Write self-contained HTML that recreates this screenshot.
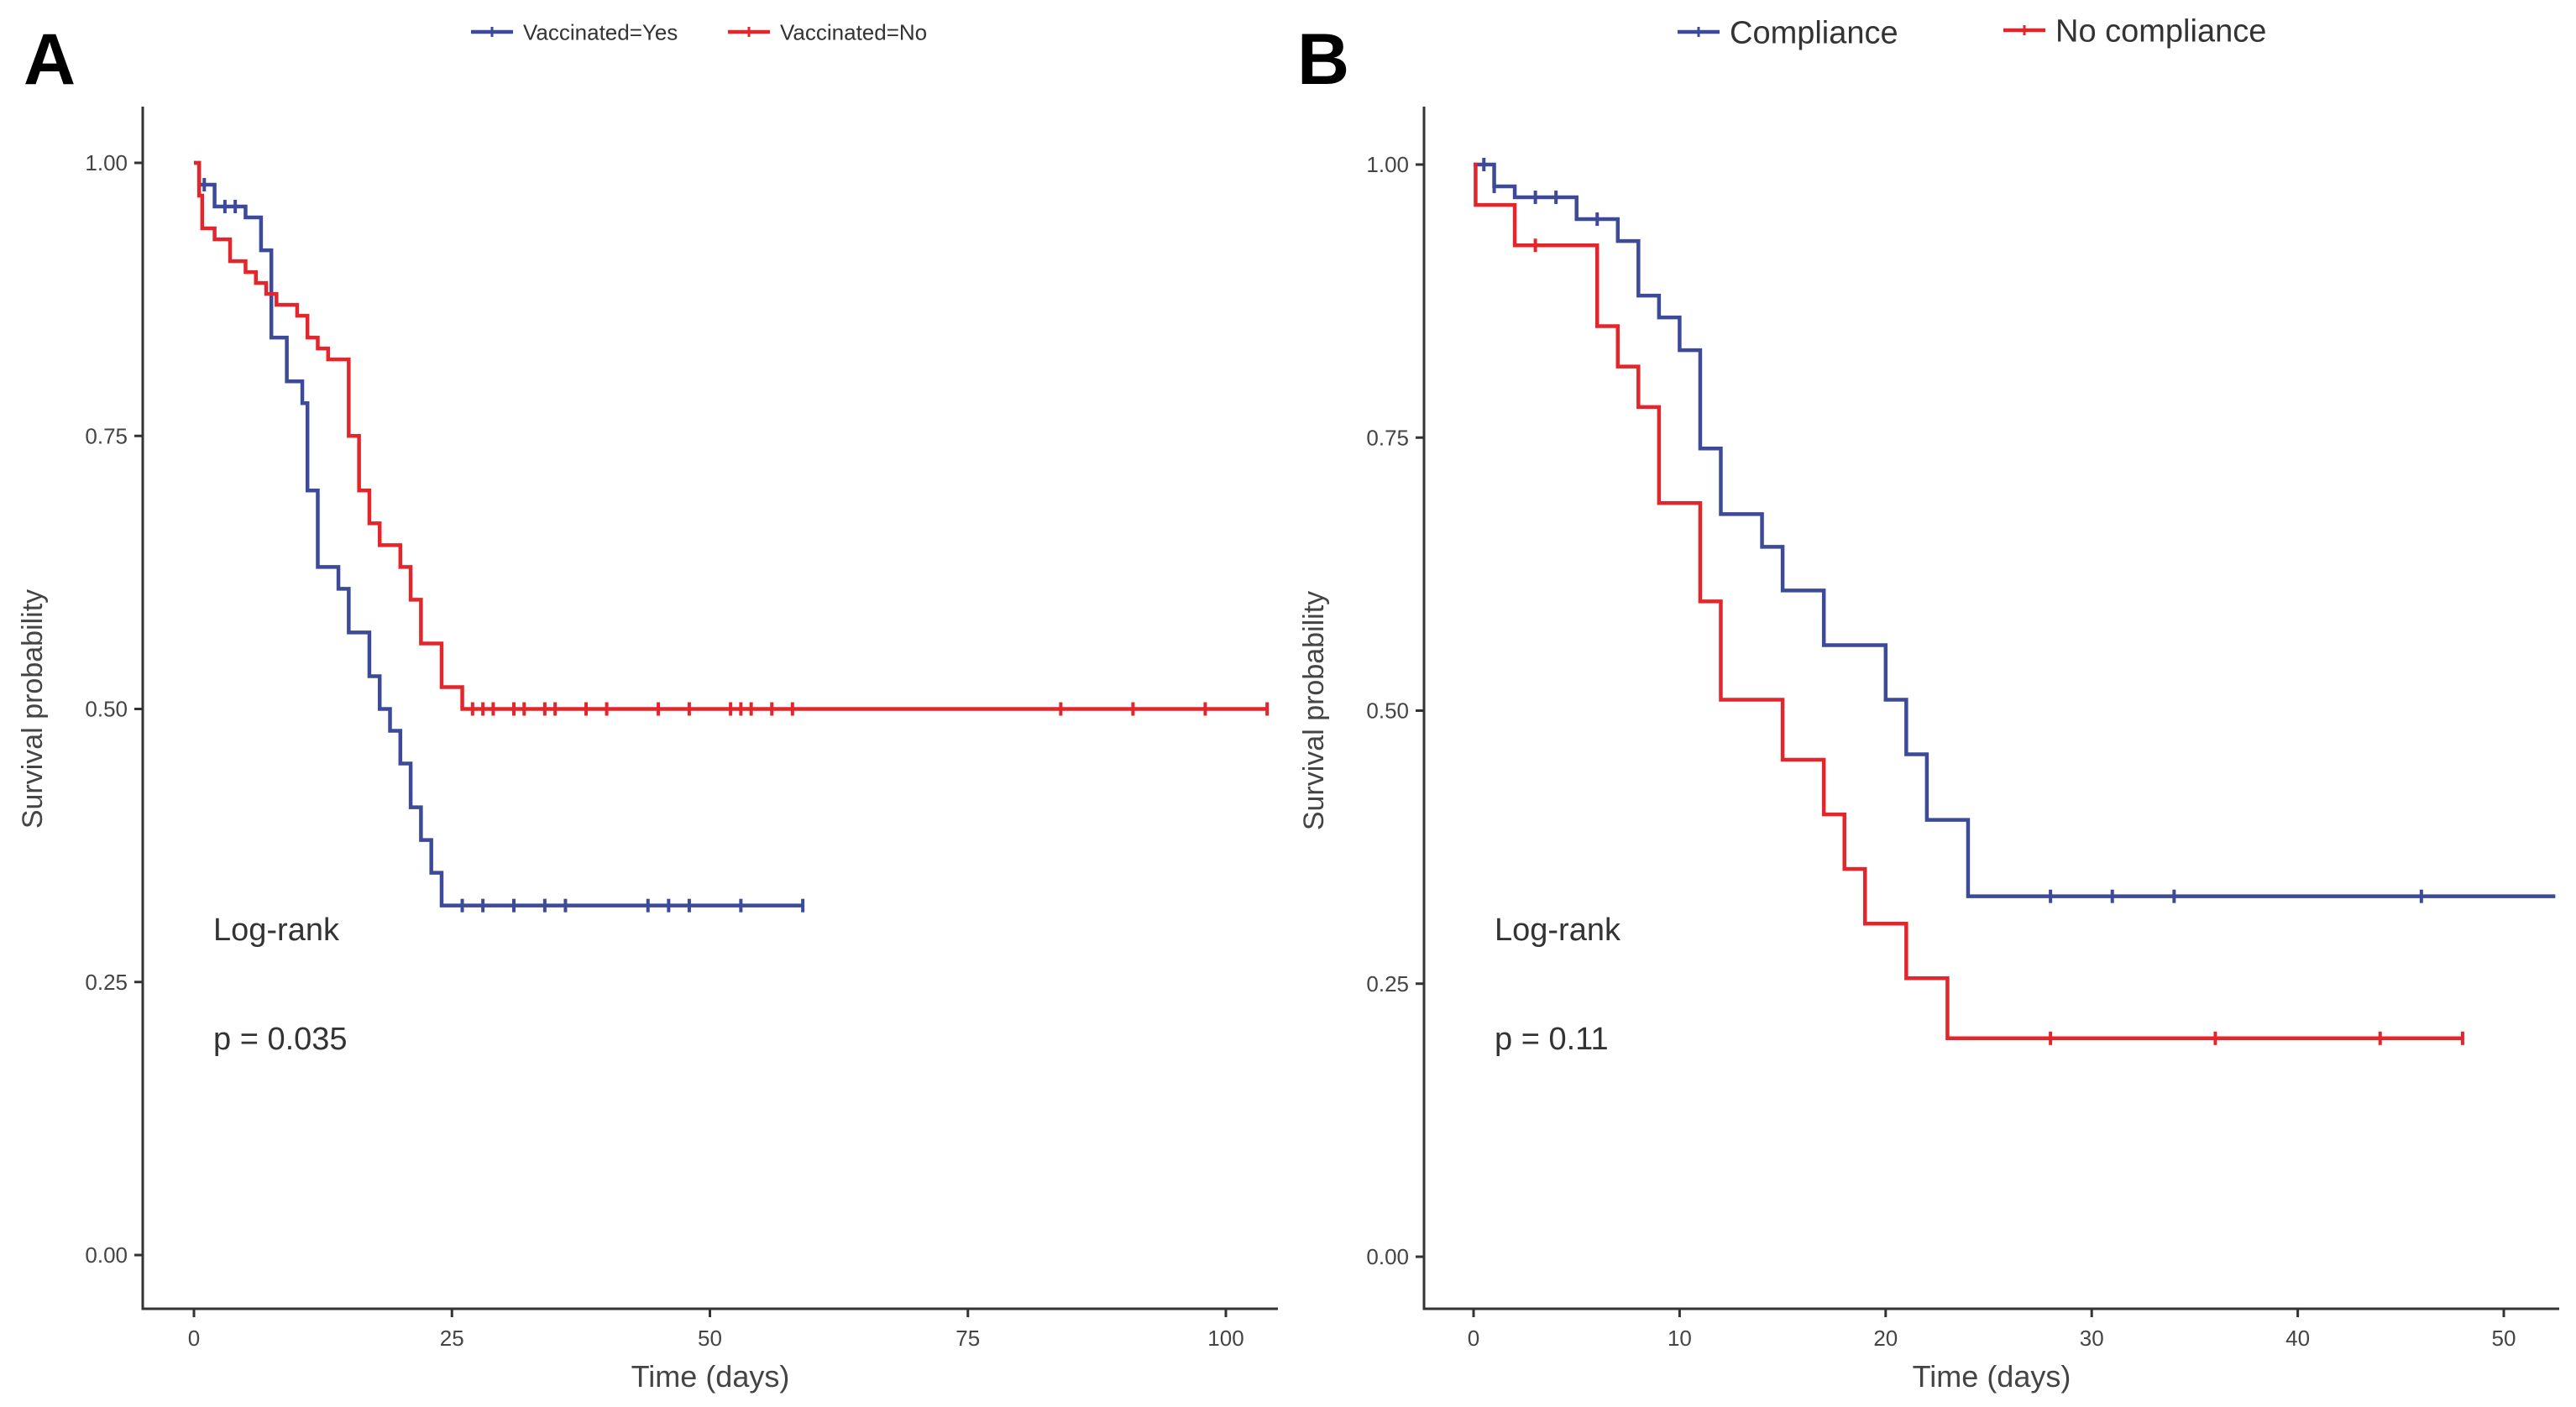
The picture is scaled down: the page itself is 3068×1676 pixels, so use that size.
<!DOCTYPE html>
<html><head><meta charset="utf-8"><style>
html,body{margin:0;padding:0;background:#fff;}
svg{display:block;font-family:"Liberation Sans",sans-serif;}
</style></head><body>
<svg id="fig" width="3068" height="1676" viewBox="0 0 3068 1676" xmlns="http://www.w3.org/2000/svg"></svg>
<script>
// Panel A data
const aYesT = [0,0.5,2,5,6.5,7.5,9,10.5,11,12,14,15,17,18,19,20,21,22,23,24];
const aYesS = [1,0.98,0.96,0.95,0.92,0.84,0.80,0.78,0.70,0.63,0.61,0.57,0.53,0.50,0.48,0.45,0.41,0.38,0.35,0.32];
const aYesEnd = 59;
const aYesCens = [1,3,4,26,28,31,34,36,44,46,48,53,59];
const aNoT = [0,0.5,0.8,2,3.5,5,6,7,8,10,11,12,13,15,16,17,18,20,21,22,24,26];
const aNoS = [1,0.97,0.94,0.93,0.91,0.90,0.89,0.88,0.87,0.86,0.84,0.83,0.82,0.75,0.70,0.67,0.65,0.63,0.60,0.56,0.52,0.50];
const aNoEnd = 104;
const aNoCens = [27,28,29,31,32,34,35,38,40,45,48,52,53,54,56,58,84,91,98,104];
// Panel B data
const bCompT = [0,1,2,5,7,8,9,10,11,12,14,15,17,20,21,22,24];
const bCompS = [1,0.98,0.97,0.95,0.93,0.88,0.86,0.83,0.74,0.68,0.65,0.61,0.56,0.51,0.46,0.40,0.33];
const bCompEnd = 52.5;
const bCompCens = [0.5,1,3,4,6,28,31,34,46];
const bNoT = [0,0.1,2,6,7,8,9,11,12,15,17,18,19,21,23];
const bNoS = [1,0.963,0.926,0.852,0.815,0.778,0.69,0.60,0.51,0.455,0.405,0.355,0.305,0.255,0.20];
const bNoEnd = 48;
const bNoCens = [3,28,36,44,48];
const yTicks = [0,0.25,0.5,0.75,1];
const yTickLabels = ["0.00","0.25","0.50","0.75","1.00"];
const aXTicks = [0,25,50,75,100];
const bXTicks = [0,10,20,30,40,50];

const NS="http://www.w3.org/2000/svg";
const svg=document.getElementById('fig');
function mk(tag,attrs,parent,text){const e=document.createElementNS(NS,tag);for(const k in attrs)e.setAttribute(k,attrs[k]);if(text!==undefined)e.textContent=text;(parent||svg).appendChild(e);return e;}
const BLUE="#3d4a9a", RED="#e3262b";

function panel(p){
  const g=mk('g',{});
  
  
  const X=t=>p.x0+(t-0)*(p.x1-p.x0)/p.xmax;
  const Y=s=>p.y0+(1-s)*(p.y1-p.y0);
  const ax=mk('path',{d:`M${p.axL},${p.axT} V${p.axB} H${p.axR}`,fill:'none',stroke:'#333',"stroke-width":3},g);
  
  
  yTicks.forEach((v,i)=>{
    mk('line',{x1:p.axL-10,x2:p.axL,y1:Y(v),y2:Y(v),stroke:'#333',"stroke-width":3},g);
    const t=mk('text',{x:p.axL-18,y:Y(v)+9,"text-anchor":"end","font-size":26,fill:'#444'},g,yTickLabels[i]);
    
    
  });
  p.xt.forEach(v=>{
    mk('line',{x1:X(v),x2:X(v),y1:p.axB,y2:p.axB+10,stroke:'#333',"stroke-width":3},g);
    const t=mk('text',{x:X(v),y:p.axB+44,"text-anchor":"middle","font-size":26,fill:'#444'},g,String(v));
    
    
  });
  const xt=mk('text',{x:(p.axL+p.axR)/2,y:1652,"text-anchor":"middle","font-size":36,fill:'#444'},g,'Time (days)');
  
  
  const yt=mk('text',{x:0,y:0,"text-anchor":"middle","font-size":34,fill:'#444',transform:`translate(${p.axL-120},${(Y(0)+Y(1))/2}) rotate(-90)`},g,'Survival probability');
  
  
  p.series.forEach(s=>{
    let d=`M${X(s.t[0])},${Y(s.s[0])}`;
    for(let i=1;i<s.t.length;i++){d+=` H${X(s.t[i])} V${Y(s.s[i])}`;}
    d+=` H${X(s.end)}`;
    const l=mk('path',{d,fill:'none',stroke:s.c,"stroke-width":4.5},g);
    
    
    s.cens.forEach(ct=>{
      let sv=s.s[0];
      for(let i=0;i<s.t.length;i++){if(s.t[i]<=ct)sv=s.s[i];}
      const m=mk('line',{x1:X(ct),x2:X(ct),y1:Y(sv)-8,y2:Y(sv)+8,stroke:s.c,"stroke-width":4},g);
      
      
    });
  });
  const lr=mk('text',{x:p.axL+84,y:1120,"font-size":38,fill:'#333'},g,'Log-rank');
  
  
  const pv=mk('text',{x:p.axL+84,y:1250,"font-size":38,fill:'#333'},g,p.pval);
  
  
  const pl=mk('text',{x:p.letterX,y:100,"font-size":86,"font-weight":"bold",fill:'#000'},g,p.letter);
  
  
  p.legend.forEach(le=>{
    const lg=mk('g',{},g);
    
    
    mk('line',{x1:le.x,x2:le.x+50,y1:le.y,y2:le.y,stroke:le.c,"stroke-width":4.5},lg);
    mk('line',{x1:le.x+25,x2:le.x+25,y1:le.y-6,y2:le.y+6,stroke:le.c,"stroke-width":3},lg);
    mk('text',{x:le.x+62,y:le.y+le.fs*0.36,"font-size":le.fs,fill:'#333'},lg,le.label);
  });
}

panel({name:'panel-a',x0:231,x1:1460,xmax:100,y0:194,y1:1495,axL:170,axT:127,axB:1559,axR:1522,xt:aXTicks,
  pval:'p = 0.035',letter:'A',letterX:28,
  series:[{name:'vaccinated-yes',t:aYesT,s:aYesS,end:aYesEnd,cens:aYesCens,c:BLUE},
          {name:'vaccinated-no',t:aNoT,s:aNoS,end:aNoEnd,cens:aNoCens,c:RED}],
  legend:[{x:561,y:38,c:BLUE,label:'Vaccinated=Yes',fs:26},{x:867,y:38,c:RED,label:'Vaccinated=No',fs:26}]});
panel({name:'panel-b',x0:1755,x1:2982,xmax:50,y0:196,y1:1497,axL:1696,axT:127,axB:1559,axR:3048,xt:bXTicks,
  pval:'p = 0.11',letter:'B',letterX:1545,
  series:[{name:'compliance',t:bCompT,s:bCompS,end:bCompEnd,cens:bCompCens,c:BLUE},
          {name:'no-compliance',t:bNoT,s:bNoS,end:bNoEnd,cens:bNoCens,c:RED}],
  legend:[{x:1998,y:38,c:BLUE,label:'Compliance',fs:38},{x:2386,y:36,c:RED,label:'No compliance',fs:38}]});
</script>
</body></html>
